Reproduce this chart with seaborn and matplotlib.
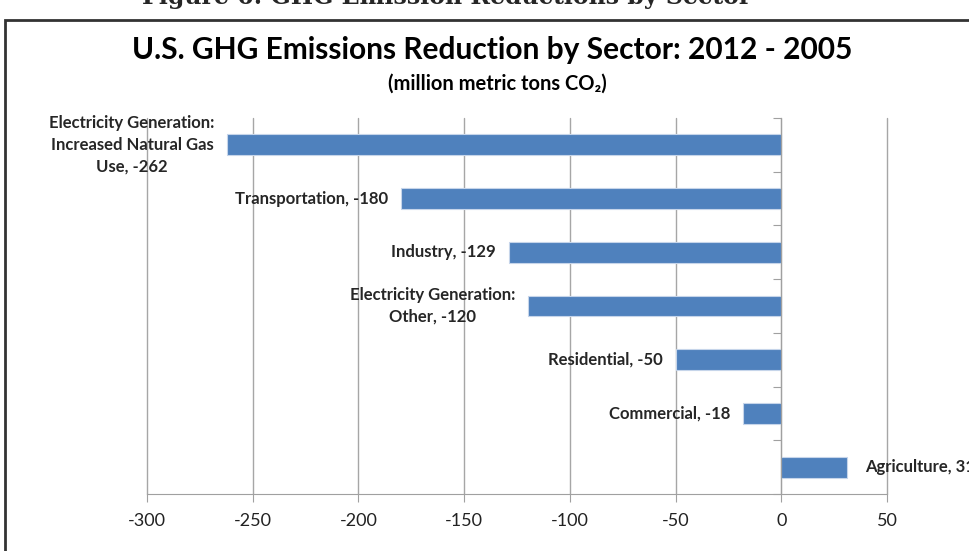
import numpy as np
import pandas as pd
import matplotlib
matplotlib.use("Agg")
import matplotlib.pyplot as plt
import matplotlib.patches as patches
import seaborn as sns

# donnees
sectors = [
    "Electricity Generation:\nIncreased Natural Gas\nUse",
    "Transportation, ",
    "Industry",
    "Electricity Generation:\nOther",
    "Residential",
    "Commercial",
    "Agriculture",
]
reductions = [-262, -180, -129, -120, -50, -18, 31]
x_ticks = [-300, -250, -200, -150, -100, -50, 0, 50]

df = pd.DataFrame({"Sector": sectors, "Reduction": reductions})

sns.set_style("white")
plt.rcParams["font.family"] = ["Lato", "DejaVu Sans"]

fig = plt.figure(figsize=(9.7, 5.51), dpi=100)
ax = fig.add_axes([147 / 970, 1 - 494 / 551, 740 / 970, 376 / 551])

sns.barplot(
    data=df,
    x="Reduction",
    y="Sector",
    orient="h",
    color="#4F81BD",
    saturation=1,
    width=0.39,
    edgecolor="#c6d5ea",
    linewidth=0.8,
    ax=ax,
)

ax.set_xlim(-300, 50)
ax.set_ylim(len(sectors) - 0.5, -0.5)
ax.set_xticks(x_ticks)
ax.set_xticklabels([str(t) for t in x_ticks], fontsize=13)
ax.set_xlabel("")
ax.set_ylabel("")
ax.grid(axis="x", color="#a6a6a6", linewidth=1)
for gl in ax.get_xgridlines():
    gl.set_clip_on(False)
ax.set_axisbelow(True)

# axe vertical sur x = 0 avec des graduations entre les categories
ax.spines["left"].set_position(("data", 0))
ax.spines["left"].set_color("#a0a0a0")
ax.spines["bottom"].set_color("#a0a0a0")
ax.spines["top"].set_visible(False)
ax.spines["right"].set_visible(False)
ax.set_yticks(np.arange(-0.5, len(sectors), 1))
ax.set_yticklabels([])
ax.tick_params(axis="y", left=True, length=6, color="#a0a0a0", direction="out")
ax.tick_params(axis="x", bottom=True, length=6, color="#a0a0a0", direction="out",
               pad=8, labelcolor="#222222")

# etiquettes des barres
for i, (name, val) in enumerate(zip(sectors, reductions)):
    sep = "" if name.endswith(" ") else ", "
    label = f"{name}{sep}{val}"
    if val < 0:
        ax.annotate(label, (val, i), xytext=(-9, 0), textcoords="offset points",
                    ha="right", va="center", multialignment="center",
                    fontsize=12, fontweight="bold", linespacing=1.45)
    else:
        ax.annotate(label, (val, i), xytext=(13, 0), textcoords="offset points",
                    ha="left", va="center", fontsize=12, fontweight="bold",
                    annotation_clip=False)

fig.text(0.507, 1 - 50 / 551, "U.S. GHG Emissions Reduction by Sector: 2012 - 2005",
         ha="center", va="center", fontsize=21.5, fontweight="bold", color="black")
fig.text(0.513, 1 - 84 / 551, "(million metric tons CO\u2082)",
         ha="center", va="center", fontsize=14.5, fontweight="bold", color="black")

# titre de la figure coupe en haut
fig.text(0.46, 1 - 4 / 551, "Figure 6: GHG Emission Reductions by Sector",
         ha="center", va="baseline", fontsize=17, fontweight="bold",
         family="DejaVu Serif")

# cadre de la figure
fig.patches.append(patches.Rectangle((5 / 970, -0.1), 1.2, 1.1 - 20 / 551,
                                     transform=fig.transFigure, fill=False,
                                     edgecolor="#333333", linewidth=2))

fig.savefig("out.png", dpi=100)
